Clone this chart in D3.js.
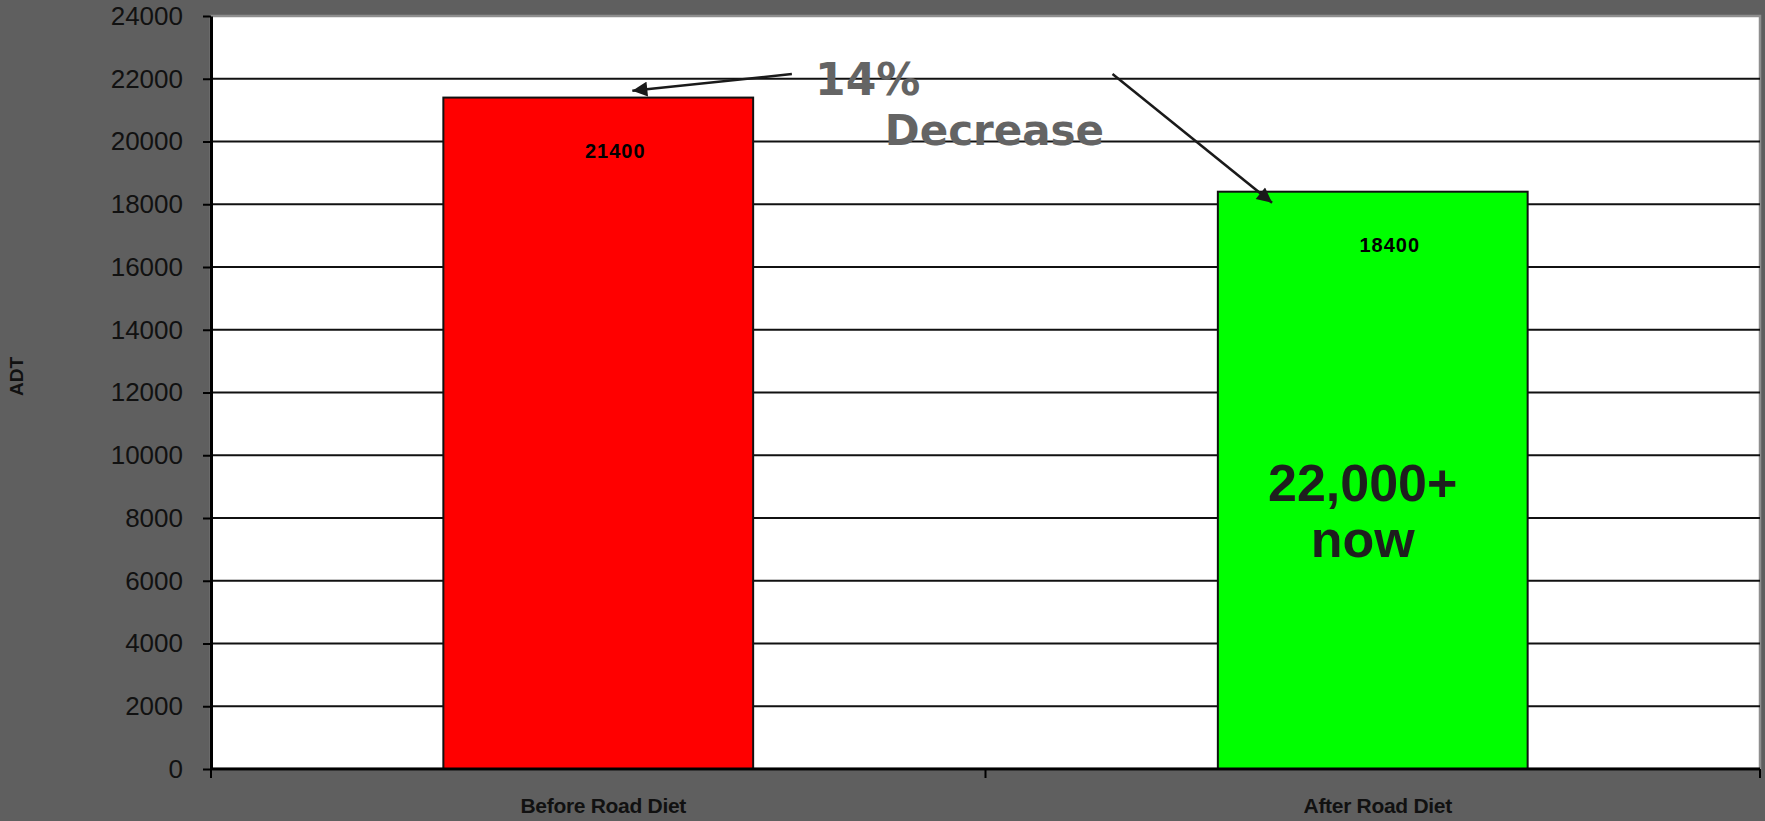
<!DOCTYPE html>
<html>
<head>
<meta charset="utf-8">
<script src="https://cdn.jsdelivr.net/npm/d3@7/dist/d3.min.js"></script>
<style>
  html, body { margin: 0; padding: 0; background: #5f5f5f; overflow: hidden; }
  svg { display: block; }
</style>
</head>
<body>
<div id="chart"></div>
<script>
const categories = ["Before Road Diet", "After Road Diet"];
const adtValues = [21400, 18400];
const barColors = ["#ff0000", "#00ff00"];
const yTicks = [0, 2000, 4000, 6000, 8000, 10000, 12000, 14000, 16000, 18000, 20000, 22000, 24000];

// annotation positions in chart units: x in category steps from the left edge, y in ADT
const arrows = [
  { from: [0.75, 22150], to: [0.544, 21620] },
  { from: [1.164, 22150], to: [1.37, 18050] }
];
const notes = [
  { text: "14%", x: 0.78, y: 21480, size: 44, fill: "#646464", family: "DejaVu Sans, Verdana, sans-serif" },
  { text: "Decrease", x: 0.87, y: 19890, size: 42, fill: "#646464", family: "DejaVu Sans, Verdana, sans-serif" },
  { text: "22,000+", x: 1.487, y: 8540, size: 52, fill: "#1e1e1e", anchor: "middle" },
  { text: "now", x: 1.487, y: 6760, size: 52, fill: "#1e1e1e", anchor: "middle" }
];

const width = 1765;
const height = 821;
const margin = { top: 16, right: 5, bottom: 52, left: 211 };
const plotW = width - margin.left - margin.right;
const plotH = height - margin.top - margin.bottom;

const svg = d3.select("#chart")
  .append("svg")
  .attr("width", width)
  .attr("height", height);

const defs = svg.append("defs");
defs.append("marker")
  .attr("id", "head")
  .attr("viewBox", "0 0 10 10")
  .attr("refX", 10)
  .attr("refY", 5)
  .attr("markerWidth", 7)
  .attr("markerHeight", 6)
  .attr("markerUnits", "strokeWidth")
  .attr("orient", "auto")
  .append("path")
  .attr("d", "M0,0 L10,5 L0,10 z")
  .attr("fill", "#1a1a1a");

const g = svg.append("g")
  .attr("transform", `translate(${margin.left},${margin.top})`);

const x = d3.scaleBand()
  .domain(categories)
  .range([0, plotW])
  .paddingInner(0.6)
  .paddingOuter(0.3);

const unit = d3.scaleLinear()
  .domain([0, categories.length])
  .range([0, plotW]);

const y = d3.scaleLinear()
  .domain([0, 24000])
  .range([plotH, 0]);

// plot area
g.append("rect")
  .attr("width", plotW)
  .attr("height", plotH)
  .attr("fill", "#fff")
  .attr("stroke", "#8e8e8e")
  .attr("stroke-width", 2.5);

// gridlines
g.append("g")
  .selectAll("line")
  .data(yTicks.filter(d => d > 0 && d < 24000))
  .join("line")
  .attr("x1", 0)
  .attr("x2", plotW)
  .attr("y1", d => y(d))
  .attr("y2", d => y(d))
  .attr("stroke", "#111")
  .attr("stroke-width", 2);

// bars
g.append("g")
  .selectAll("rect")
  .data(adtValues)
  .join("rect")
  .attr("x", (d, i) => x(categories[i]))
  .attr("y", d => y(d))
  .attr("width", x.bandwidth())
  .attr("height", d => plotH - y(d))
  .attr("fill", (d, i) => barColors[i])
  .attr("stroke", "#111")
  .attr("stroke-width", 2);

// value labels
g.append("g")
  .selectAll("text")
  .data(adtValues)
  .join("text")
  .attr("x", (d, i) => x(categories[i]) + x.bandwidth() / 2 + 17)
  .attr("y", d => y(d) + 60)
  .attr("text-anchor", "middle")
  .attr("font-family", "Liberation Sans, Arial, sans-serif")
  .attr("font-weight", "bold")
  .attr("font-size", 20)
  .attr("letter-spacing", 1)
  .attr("fill", "#000")
  .text(d => d);

// y axis
const yAxis = g.append("g")
  .call(d3.axisLeft(y).tickValues(yTicks).tickSize(8).tickSizeOuter(0).tickPadding(20).tickFormat(d3.format("d")));
yAxis.select(".domain").attr("stroke", "#000").attr("stroke-width", 3);
yAxis.selectAll(".tick line").attr("stroke", "#000").attr("stroke-width", 2);
yAxis.selectAll(".tick text")
  .attr("font-family", "Liberation Sans, Arial, sans-serif")
  .attr("font-size", 26)
  .attr("fill", "#111");

// x axis with ticks at category boundaries
const xAxis = g.append("g")
  .attr("transform", `translate(0,${plotH})`);
xAxis.append("line")
  .attr("x1", 0)
  .attr("x2", plotW)
  .attr("stroke", "#000")
  .attr("stroke-width", 3);
xAxis.selectAll(".xtick")
  .data(d3.range(categories.length + 1))
  .join("line")
  .attr("class", "xtick")
  .attr("x1", d => unit(d))
  .attr("x2", d => unit(d))
  .attr("y1", 0)
  .attr("y2", 9)
  .attr("stroke", "#000")
  .attr("stroke-width", 2);
xAxis.selectAll(".xlabel")
  .data(categories)
  .join("text")
  .attr("class", "xlabel")
  .attr("x", d => x(d) + x.bandwidth() / 2 + 5)
  .attr("y", 44)
  .attr("text-anchor", "middle")
  .attr("font-family", "Liberation Sans, Arial, sans-serif")
  .attr("font-weight", "bold")
  .attr("font-size", 21)
  .attr("letter-spacing", -0.3)
  .attr("fill", "#111")
  .text(d => d);

// y axis title
svg.append("text")
  .attr("transform", `translate(23,${margin.top + plotH / 2 - 16}) rotate(-90)`)
  .attr("text-anchor", "middle")
  .attr("font-family", "Liberation Sans, Arial, sans-serif")
  .attr("font-weight", "bold")
  .attr("font-size", 19)
  .attr("fill", "#111")
  .text("ADT");

// arrows
g.append("g")
  .selectAll("line")
  .data(arrows)
  .join("line")
  .attr("x1", d => unit(d.from[0]))
  .attr("y1", d => y(d.from[1]))
  .attr("x2", d => unit(d.to[0]))
  .attr("y2", d => y(d.to[1]))
  .attr("stroke", "#1a1a1a")
  .attr("stroke-width", 2.5)
  .attr("marker-end", "url(#head)");

// annotation text
g.append("g")
  .selectAll("text")
  .data(notes)
  .join("text")
  .attr("x", d => unit(d.x))
  .attr("y", d => y(d.y))
  .attr("text-anchor", d => d.anchor || "start")
  .attr("font-family", d => d.family || "Liberation Sans, Arial, sans-serif")
  .attr("font-weight", "bold")
  .attr("font-size", d => d.size)
  .attr("fill", d => d.fill)
  .text(d => d.text);
</script>
</body>
</html>
